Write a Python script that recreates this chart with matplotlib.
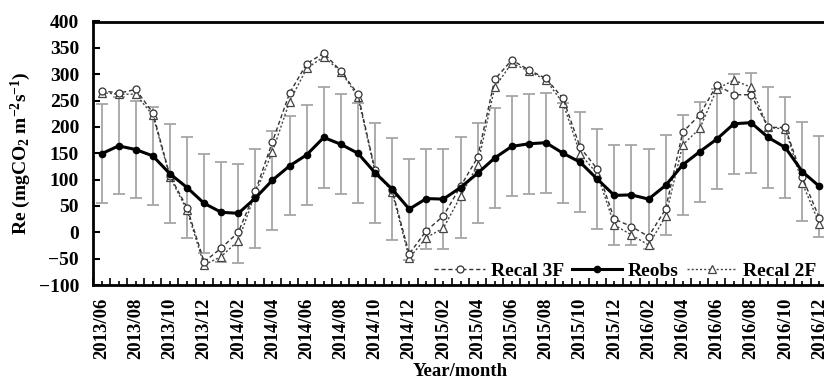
import matplotlib
matplotlib.use("Agg")
import matplotlib.pyplot as plt
import numpy as np

months = []
for y, m0, m1 in [(2013, 6, 12), (2014, 1, 12), (2015, 1, 12), (2016, 1, 12)]:
    for m in range(m0, m1 + 1):
        months.append(f"{y}/{m:02d}")

reobs = [149, 164, 157, 145, 111, 85, 55, 38, 36, 65, 99, 126,
         147, 180, 167, 150, 113, 82, 44, 64, 63, 85, 112, 141,
         163, 168, 170, 150, 133, 101, 70, 71, 63, 89, 128, 153,
         177, 206, 208, 180, 161, 115, 87]
reobs_err = [94, 92, 92, 93, 94, 95, 94, 95, 94, 94, 94, 94,
             95, 95, 95, 95, 95, 96, 96, 95, 95, 95, 95, 95,
             95, 95, 95, 95, 95, 95, 95, 95, 95, 95, 95, 95,
             95, 95, 95, 95, 95, 94, 95]
recal3f = [269, 264, 271, 227, 107, 47, -56, -30, 0, 78, 172, 264,
           320, 340, 306, 262, 118, 80, -41, 3, 31, 87, 142, 290,
           327, 308, 292, 254, 161, 120, 25, 11, -8, 44, 190, 223,
           280, 261, 261, 199, 199, 104, 27]
recal2f = [265, 262, 262, 222, 105, 42, -62, -46, -16, 74, 153, 248,
           311, 333, 305, 257, 115, 77, -49, -10, 8, 68, 128, 275,
           321, 306, 289, 245, 149, 111, 14, -5, -24, 30, 166, 197,
           272, 289, 275, 199, 196, 93, 16]

plt.rcParams['font.family'] = ['Liberation Serif', 'DejaVu Serif']
plt.rcParams['font.weight'] = 'bold'
plt.rcParams['mathtext.fontset'] = 'custom'
plt.rcParams['mathtext.rm'] = 'Liberation Serif:bold'
plt.rcParams['mathtext.it'] = 'Liberation Serif:bold'
plt.rcParams['mathtext.bf'] = 'Liberation Serif:bold'

fig = plt.figure(figsize=(8.24, 3.87), dpi=100)
ax = fig.add_axes([93/824, (387-285)/387, 735/824, (285-21.5)/387])

x = np.arange(len(months))

ax.errorbar(x, reobs, yerr=reobs_err, fmt='none', ecolor='#a6a6a6',
            elinewidth=1.3, capsize=4, capthick=1.3, zorder=1)
ax.plot(x, recal3f, linestyle=(0, (3, 2)), color='#333333', lw=1.0,
        marker='o', markersize=5, markerfacecolor='white',
        markeredgecolor='#333333', markeredgewidth=0.9, label='Recal 3F', zorder=3)
ax.plot(x, reobs, linestyle='-', color='black', lw=2.2,
        marker='o', markersize=4.5, markerfacecolor='black',
        markeredgecolor='black', label='Reobs', zorder=4)
ax.plot(x, recal2f, linestyle=(0, (1.5, 1.5)), color='#444444', lw=1.0,
        marker='^', markersize=5.5, markerfacecolor='white',
        markeredgecolor='#444444', markeredgewidth=0.9, label='Recal 2F', zorder=2)

ax.set_xlim(-0.5, len(months) - 0.5)
ax.set_ylim(-100, 400)
ax.set_yticks(np.arange(-100, 401, 50))
ax.tick_params(axis='y', direction='in', length=5, width=1.5, labelsize=14, pad=10)

ax.set_xticks(np.arange(-0.5, len(months), 1.0))
ax.set_xticklabels([])
ax.tick_params(axis='x', which='major', direction='in', length=5, width=1.2)
ax.set_xticks(x, [m if i % 2 == 0 else '' for i, m in enumerate(months)], minor=True)
ax.tick_params(axis='x', which='minor', direction='in', length=3, width=1.2,
               labelsize=13.5, labelrotation=90, pad=9)

for s in ['left', 'bottom', 'top', 'right']:
    ax.spines[s].set_linewidth(2.0)

ax.set_ylabel(r'Re (mgCO$_2$ m$^{-2}$s$^{-1}$)', fontsize=14, fontweight='bold', labelpad=4)
ax.set_xlabel('Year/month', fontsize=13.5, fontweight='bold', labelpad=3)

leg = ax.legend(loc='lower right', bbox_to_anchor=(1.0, -0.025), ncol=3, frameon=False,
                fontsize=14, handlelength=2.6, handletextpad=0.3, columnspacing=0.4,
                borderaxespad=0.2)

fig.savefig('out.png', dpi=100)
